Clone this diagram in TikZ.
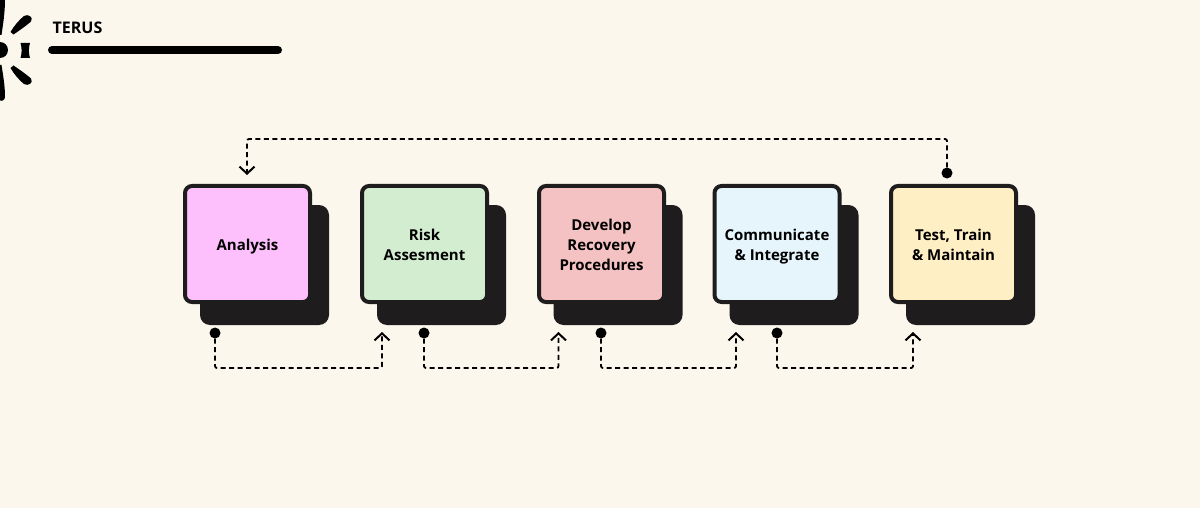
\documentclass[tikz,border=0pt]{standalone}
\usepackage{fontspec}
\setmainfont{Open Sans}
\usetikzlibrary{arrows.meta}
\definecolor{paper}{HTML}{FBF7EC}
\definecolor{ink}{HTML}{1E1C1D}
\newcommand{\cardtext}[1]{\rule{0pt}{17pt}#1\rule[-4pt]{0pt}{4pt}}
\tikzset{
  card/.style={draw=ink,line width=4pt,rounded corners=7pt,minimum width=125pt,minimum height=116pt,
    inner sep=0pt,align=center,font=\bfseries\fontsize{15pt}{20pt}\selectfont,text=black},
  backing/.style={fill=ink,rounded corners=10pt,minimum width=129pt,minimum height=120pt,inner sep=0pt},
  dot/.style={circle,fill=black,minimum size=11pt,inner sep=0pt},
  link/.style={line width=1.8pt,dash pattern=on 5pt off 3.5pt,rounded corners=2pt,-{Straight Barb[length=7pt,width=15pt,line width=2pt]}},
}
\begin{document}
\begin{tikzpicture}[x=1pt,y=-1pt]
  \useasboundingbox[fill=paper] (0,0) rectangle (1200,508);
  % logo
  \fill[black] (0,50) circle (8);
  \fill[black] (20.5,43) -- (30,43) .. controls (28.5,48) and (28.5,53) .. (30,58) -- (20.5,58) .. controls (22,53) and (22,48) .. (20.5,43) -- cycle;
  \fill[black] (-1,0) -- (5,0) .. controls (5,12) and (3,25) .. (1.5,35) -- (-1,35) -- cycle;
  \fill[black] (-1,100) .. controls (2,102) and (5,100) .. (5,97) .. controls (5,85) and (3,75) .. (1.5,65) -- (-1,65) -- cycle;
  \fill[black] (10.5,32) .. controls (14,26) and (19,20) .. (24,16) .. controls (28,13.5) and (34,17) .. (31,21.5) .. controls (26,26) and (20,30) .. (13.5,34.5) -- cycle;
  \fill[black] (10.5,68) .. controls (14,74) and (19,80) .. (24,84) .. controls (28,86.5) and (34,83) .. (31,78.5) .. controls (26,74) and (20,70) .. (13.5,65.5) -- cycle;
  \node[font=\bfseries\fontsize{16pt}{18pt}\selectfont,text=black,inner sep=0pt] (title) at (77.5,28) {TERUS};
  \draw[black,line width=8pt,line cap=round] (52,50) -- (278,50);

  % cards
  \node[backing] (back1) at (264.5,265) {};
  \node[backing] (back2) at (441.5,265) {};
  \node[backing] (back3) at (618,265) {};
  \node[backing] (back4) at (794,265) {};
  \node[backing] (back5) at (970.5,265) {};
  \node[card,fill={rgb,255:red,253;green,192;blue,253}] (analysis) at (247.5,244) {\cardtext{Analysis}};
  \node[card,fill={rgb,255:red,211;green,237;blue,208}] (risk) at (424.5,244) {\cardtext{Risk\\Assesment}};
  \node[card,fill={rgb,255:red,244;green,194;blue,194}] (develop) at (601.5,244) {\cardtext{Develop\\Recovery\\Procedures}};
  \node[card,fill={rgb,255:red,230;green,245;blue,251}] (communicate) at (777,244) {\cardtext{Communicate\\\& Integrate}};
  \node[card,fill={rgb,255:red,255;green,239;blue,197}] (test) at (953.5,244) {\cardtext{Test, Train\\\& Maintain}};

  % connectors
  \node[dot] (dot1) at (215,333) {};
  \node[dot] (dot2) at (424,333) {};
  \node[dot] (dot3) at (601,333) {};
  \node[dot] (dot4) at (777,333) {};
  \node[dot] (dot5) at (947,173) {};
  \coordinate (tip1) at (382,332);
  \coordinate (tip2) at (558.5,332);
  \coordinate (tip3) at (736,332);
  \coordinate (tip4) at (913,332);
  \coordinate (tip5) at (247,175);
  \begin{scope}[link]
    \draw (dot1) -- (215,368) -- (382,368) -- (tip1);
    \draw (dot2) -- (424,368) -- (558.5,368) -- (tip2);
    \draw (dot3) -- (601,368) -- (736,368) -- (tip3);
    \draw (dot4) -- (777,368) -- (913,368) -- (tip4);
    \draw (dot5) -- (947,139) -- (247,139) -- (tip5);
  \end{scope}
\end{tikzpicture}
\end{document}
